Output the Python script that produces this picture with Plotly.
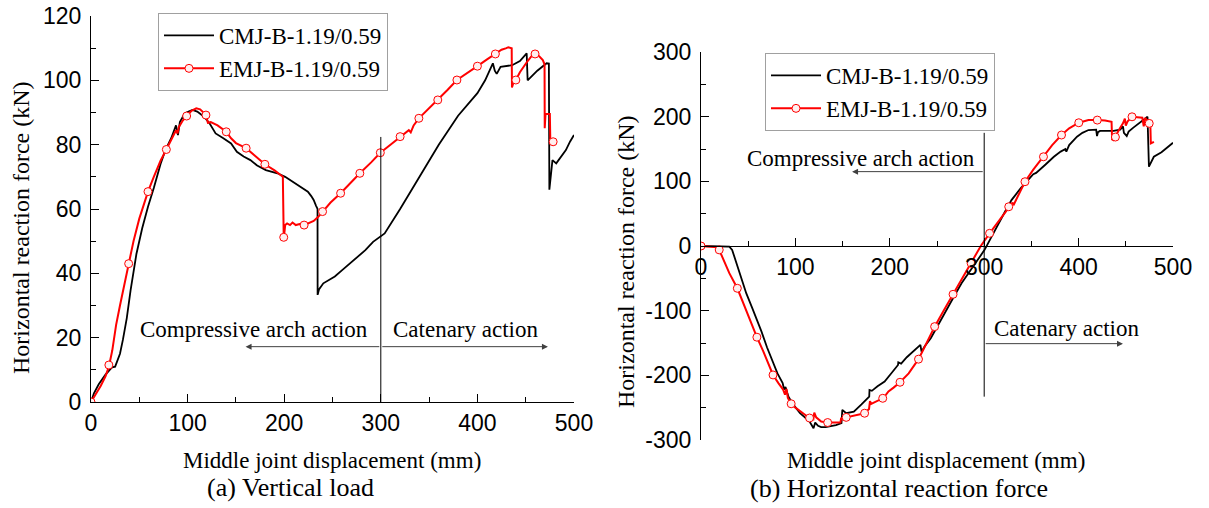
import plotly.graph_objects as go

# ---------------- data: (a) vertical load ----------------
cmj_a_x = [0, 3, 8, 15, 21, 22, 25, 27, 30, 33, 37, 41, 44, 47, 53, 59, 65, 72, 77, 83, 88, 90, 92, 97, 101, 105,
           110, 117, 123, 129, 137, 145, 151, 153, 158, 165, 172, 181, 187, 193, 201, 208.6, 216, 224.5, 228, 230.5,
           233, 234.5, 234.6, 236, 240.5, 246, 252.4, 260, 268.4, 276, 284, 292, 304, 320, 340, 360, 380, 400, 408,
           413, 416, 418, 420, 424, 436, 444, 451, 452, 455, 462, 471.6, 474, 474.5, 476, 477.7, 481.6, 486, 491.6,
           496, 500]
cmj_a_y = [0, 2.7, 5.5, 8.5, 10.5, 10.8, 11, 12.5, 15, 19.3, 26, 34.8, 40, 46, 54, 60.7, 66.5, 74, 78.3, 82, 86, 83,
           87, 89.7, 90.3, 90.8, 90.3, 88.7, 86.5, 83.5, 82, 80.4, 77.8, 77.3, 76.3, 75.2, 73.5, 72.1, 71.5, 71.1, 70,
           68.5, 67, 65.4, 64, 62.8, 61, 60, 33.3, 35, 36.9, 38, 39, 41, 43.1, 45, 47.2, 49.8, 52.4, 60, 70, 80, 89,
           96, 100, 103, 105.3, 103, 102, 104.2, 104.7, 106, 108.4, 100, 101, 103, 105.3, 105.2, 66, 70, 75.2, 74.2,
           76, 78.3, 81, 83]

emj_a_x = [0, 5, 10, 15, 18.5, 22, 26, 30, 35, 39, 44, 50, 55, 59, 65, 72, 78, 84, 88, 89.5, 91, 95, 99, 104, 109,
           113, 119, 121, 124, 131, 140, 145, 150, 160.6, 170, 180, 190, 198.6, 199.5, 200, 201, 203, 206, 208.6, 212,
           216, 220.6, 225, 230.5, 235, 239.7, 248, 258.4, 268, 278.3, 290, 299.5, 310, 320, 329, 331, 334, 339.4, 349,
           359, 369, 378.8, 390, 400, 410, 418.6, 425, 430, 432, 435.5, 435.8, 437, 439.8, 444, 447.6, 452, 456, 459.7,
           464, 467.7, 469.5, 469.7, 470.5, 475, 475.5, 478.4]
emj_a_y = [0, 2.5, 5, 8, 11, 16, 24, 30, 37, 43, 50, 57, 61.5, 65.4, 70, 75, 78.5, 82, 84.5, 83.5, 85.5, 87.5, 88.9,
           90.5, 91.3, 91, 89.2, 86.8, 87, 86, 84, 82, 80.5, 78.9, 76.5, 73.9, 72, 70, 51.2, 52, 55, 55.5, 55, 55.8,
           55, 55.3, 55, 55.5, 56.3, 57.5, 59.2, 62, 64.9, 68, 71.1, 74.5, 77.5, 80, 82.5, 84.5, 83.8, 86, 88.2, 91,
           93.9, 97, 100.1, 102.5, 104.4, 106.5, 108.2, 109.5, 110, 110.3, 110, 97.8, 99, 100.1, 102.5, 104.2, 106,
           107.5, 108.2, 107.5, 106.3, 105, 85.1, 89.5, 89.5, 80.9, 80.9]

emj_a_mx = [0, 18.5, 39, 59, 78, 99, 119, 140, 160.6, 180, 199.5, 220.6, 239.7, 258.4, 278.3, 299.5, 320, 339.4, 359,
            378.8, 400, 418.6, 439.8, 459.7, 478.4]
emj_a_my = [0, 11.5, 43, 65.4, 78.5, 88.9, 89.2, 84, 78.9, 73.9, 51.2, 55, 59.2, 64.9, 71.1, 77.5, 82.5, 88.2, 93.9,
            100.1, 104.4, 108.2, 100.1, 108.2, 80.9]

# ---------------- data: (b) horizontal reaction force ----------------
cmj_b_x = [0, 25, 30, 33, 35, 40, 47.9, 54, 60, 64, 70, 76.3, 81, 86.5, 88, 89.5, 92.7, 96.7, 100, 104.9, 110, 115,
           119.2, 121, 124, 127.3, 132, 137.5, 143, 148.8, 149.7, 153.8, 157, 161.9, 170, 178.2, 178.5, 181, 187,
           194.5, 201, 208.7, 209, 212, 218, 223, 228, 232.4, 233.6, 237, 243.4, 251, 259.7, 268, 276, 288, 300.4,
           308, 316.7, 322, 328.9, 339, 349.4, 352, 355, 357.5, 365, 373.8, 381, 386, 387, 390, 398.3, 404, 410.5,
           418.6, 419.5, 420.5, 422.7, 437, 444, 447, 448, 451, 453, 458, 463.5, 468, 471.6, 473, 474.5, 477, 479.7,
           487.8, 494, 500]
cmj_b_y = [0, 0, -1, -6, -15, -38, -73, -95, -117, -132, -157, -181.3, -197, -212, -222, -218, -233, -243, -250,
           -258.6, -265, -271.5, -281.8, -273, -278, -280, -280, -279, -277, -274, -253.5, -258.6, -258, -256, -245,
           -233, -222.6, -224, -217, -209.7, -198, -184, -180, -182, -172, -165.9, -159, -153, -163.4, -155, -142.7,
           -122, -98.9, -78, -57.7, -32, -6, 15, 40, 53, 71, 90, 107, 111, 113, 116, 126, 138, 146, 150, 146, 156,
           169, 175, 179.3, 180, 170, 176, 178, 178, 180, 185, 175, 170, 177, 183, 189.6, 195, 199.8, 200, 122.6,
           130, 138, 145, 153, 159.7]

emj_b_x = [0, 10, 17, 19.3, 22, 26, 30, 38.5, 45, 52, 59.2, 66, 72, 76.3, 82, 87, 89, 90.5, 92, 95.5, 100, 106, 113,
           119, 120, 122, 127.3, 134.2, 141, 147.7, 148.5, 150, 153.8, 160, 167, 173.3, 178, 179, 180.3, 186, 192.5,
           196, 198.6, 204, 210.8, 220, 230.4, 237.3, 247.5, 257, 267, 277, 286.2, 296.4, 305.7, 316, 326, 330, 331,
           334, 343.2, 352, 362.8, 372, 381.9, 390, 400.2, 410.5, 419.8, 428, 434.9, 435.5, 437, 439, 443, 447, 449,
           450, 452, 456.6, 462, 467.5, 469, 470.5, 474.8, 476, 476.5, 479.8]
emj_b_y = [0, -1, -2, -6, -15, -30, -42, -65.4, -90, -116, -141, -163, -185, -199.4, -212, -222, -230, -221, -235,
           -244, -250, -257, -264, -268, -257.6, -265, -271.5, -273, -273, -273, -266, -268, -265, -263, -261, -258.6,
           -252, -240, -244, -240, -235.5, -230, -225, -219, -210.7, -197, -175, -155, -124.7, -100, -74.7, -50,
           -26.8, 0, 19.6, 40, 60.7, 67, 63, 72, 99.4, 118, 138, 156, 171.6, 182, 190.6, 194.7, 194.7, 194, 192.1,
           165, 163.8, 168.5, 180, 189.6, 197, 186, 193, 199.8, 199, 198.3, 185, 198, 189.6, 188, 158.7, 161]

emj_b_mx = [0, 19.3, 38.5, 59.2, 76.3, 95.5, 115, 134.2, 153.8, 173.3, 192.5, 210.8, 230.4, 247.5, 267, 286.2,
            305.7, 326, 343.2, 362.8, 381.9, 400.2, 419.8, 439, 456.6, 474.8]
emj_b_my = [0, -6, -65.4, -141, -199.4, -244, -266, -273, -265, -258.6, -235.5, -210.7, -175, -124.7, -74.7, -26.8,
            19.6, 60.7, 99.4, 138, 171.6, 190.6, 194.7, 168.5, 199.8, 189.6]

names = ["CMJ-B-1.19/0.59", "EMJ-B-1.19/0.59"]
yb_tickvals = [-300, -200, -100, 0, 100, 200, 300]
yb_ticktext = ["-300", "-200", "-100", "0", "100", "200", "300"]

SERIF = "Liberation Serif, Times New Roman, serif"
SANS = "Liberation Sans, Arial, sans-serif"
RED = "#ff0000"
MK = dict(symbol="circle", size=8, color="#fff0f0", line=dict(color=RED, width=1))

fig = go.Figure()

# (a)
fig.add_trace(go.Scatter(x=cmj_a_x, y=cmj_a_y, mode="lines", name=names[0],
                         line=dict(color="black", width=1.8), xaxis="x", yaxis="y", legend="legend"))
fig.add_trace(go.Scatter(x=emj_a_x, y=emj_a_y, mode="lines", showlegend=False,
                         line=dict(color=RED, width=2), xaxis="x", yaxis="y"))
fig.add_trace(go.Scatter(x=emj_a_mx, y=emj_a_my, mode="markers", showlegend=False,
                         marker=MK, xaxis="x", yaxis="y"))
fig.add_trace(go.Scatter(x=[None], y=[None], mode="lines+markers", name=names[1],
                         line=dict(color=RED, width=2), marker=MK, xaxis="x", yaxis="y", legend="legend"))

# (b)
fig.add_trace(go.Scatter(x=cmj_b_x, y=cmj_b_y, mode="lines", name=names[0],
                         line=dict(color="black", width=1.8), xaxis="x2", yaxis="y2", legend="legend2"))
fig.add_trace(go.Scatter(x=emj_b_x, y=emj_b_y, mode="lines", showlegend=False,
                         line=dict(color=RED, width=2), xaxis="x2", yaxis="y2"))
fig.add_trace(go.Scatter(x=emj_b_mx, y=emj_b_my, mode="markers", showlegend=False,
                         marker=MK, xaxis="x2", yaxis="y2"))
fig.add_trace(go.Scatter(x=[None], y=[None], mode="lines+markers", name=names[1],
                         line=dict(color=RED, width=2), marker=MK, xaxis="x2", yaxis="y2", legend="legend2"))

W, H = 1209, 508
ax_common = dict(showline=True, linecolor="black", linewidth=1, ticks="inside", ticklen=8, tickwidth=1,
                 tickcolor="black", showgrid=False, zeroline=False, automargin=False,
                 tickfont=dict(family=SANS, size=23, color="black"),
                 minor=dict(ticks="inside", ticklen=5, tickwidth=1, tickcolor="black", showgrid=False))

yb_dom = [(H - 440) / H, (H - 52) / H]

fig.update_layout(
    width=W, height=H, margin=dict(l=0, r=0, t=0, b=0, autoexpand=False),
    paper_bgcolor="white", plot_bgcolor="white",
    xaxis=dict(domain=[91 / W, 574 / W], range=[0, 500], dtick=100, anchor="y",
               minor_dtick=50, **ax_common),
    yaxis=dict(domain=[(H - 402) / H, (H - 16) / H], range=[0, 120], dtick=20, anchor="x",
               minor_dtick=10, ticklabelstandoff=4, **ax_common),
    xaxis2=dict(domain=[701 / W, 1173 / W], range=[0, 500], dtick=100, anchor="free",
                position=(yb_dom[0] + yb_dom[1]) / 2, minor_dtick=50, **ax_common),
    yaxis2=dict(domain=yb_dom, range=[-300, 300], tickmode="array", tickvals=yb_tickvals,
                ticktext=yb_ticktext, anchor="x2", minor_dtick=50, ticklabelstandoff=4, **ax_common),
    legend=dict(x=158 / W, y=(H - 13) / H, xanchor="left", yanchor="top",
                font=dict(family=SERIF, size=23, color="black"), bgcolor="white",
                bordercolor="#a0a0a0", borderwidth=1, tracegroupgap=0, itemwidth=50),
    legend2=dict(x=765 / W, y=(H - 53) / H, xanchor="left", yanchor="top",
                 font=dict(family=SERIF, size=23, color="black"), bgcolor="white",
                 bordercolor="#a0a0a0", borderwidth=1, tracegroupgap=0, itemwidth=50),
    showlegend=True,
)

# reference lines at the transition
fig.add_shape(type="line", xref="x", yref="y", x0=300, x1=300, y0=0, y1=82.4,
              line=dict(color="black", width=1))
fig.add_shape(type="line", xref="x2", yref="y2", x0=300, x1=300, y0=-233, y1=175,
              line=dict(color="black", width=1))

ARW = "#404040"
def arrow(xr, yr, x_head, x_tail, y):
    fig.add_annotation(xref=xr, yref=yr, axref=xr, ayref=yr, x=x_head, y=y, ax=x_tail, ay=y,
                       text="", showarrow=True, arrowhead=2, arrowsize=1.2, arrowwidth=1, arrowcolor=ARW)

arrow("x", "y", 160, 300, 17.2)
arrow("x", "y", 473, 300, 17.2)
arrow("x2", "y2", 160, 300, 115)
arrow("x2", "y2", 447, 300, -151)

def txt(xr, yr, x, y, s, size=23, **kw):
    fig.add_annotation(xref=xr, yref=yr, x=x, y=y, text=s, showarrow=False, xanchor="center",
                       yanchor="middle", font=dict(family=SERIF, size=size, color="black"), **kw)

txt("x", "y", 169, 22.4, "Compressive arch action")
txt("x", "y", 387.6, 22.4, "Catenary action")
txt("x2", "y2", 169, 136, "Compressive arch action")
txt("x2", "y2", 387.7, -128, "Catenary action")

# axis titles & captions (paper coordinates)
txt("paper", "paper", 332 / W, 1 - 460 / H, "Middle joint displacement (mm)")
txt("paper", "paper", 290 / W, 1 - 487 / H, "(a) Vertical load", size=26)
txt("paper", "paper", 936 / W, 1 - 460 / H, "Middle joint displacement (mm)")
txt("paper", "paper", 899 / W, 1 - 488 / H, "(b) Horizontal reaction force", size=26)
txt("paper", "paper", 21 / W, 1 - 228 / H, "Horizontal reaction force (kN)", size=24, textangle=-90)
txt("paper", "paper", 626 / W, 1 - 262 / H, "Horizontal reaction force (kN)", size=24, textangle=-90)

fig.write_html("out.html")
